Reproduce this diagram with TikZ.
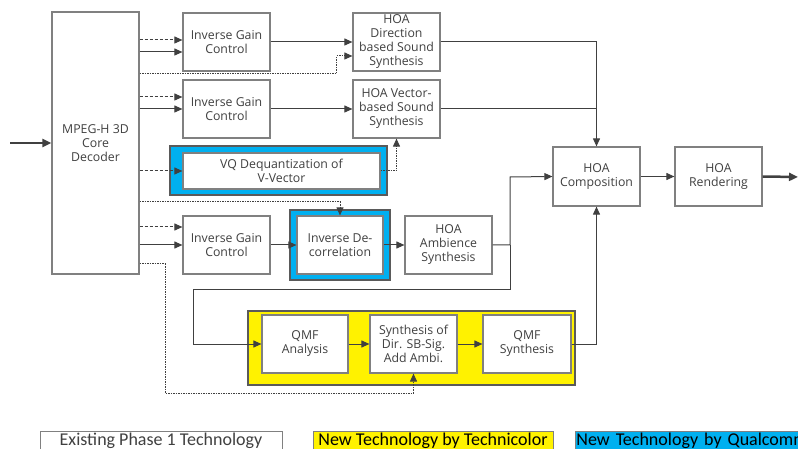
\documentclass[tikz,border=0pt]{standalone}
\usepackage{fontspec}
\setmainfont{Open Sans}
\newfontfamily\legendfont{Carlito}
\usetikzlibrary{arrows.meta}
\definecolor{qcblue}{RGB}{0,176,240}
\definecolor{lnk}{RGB}{64,64,64}
\definecolor{brd}{RGB}{128,128,128}
\tikzset{
  blk/.style={draw=brd, line width=1.2pt, fill=white, text=lnk, align=center,
    minimum width=87pt, minimum height=58pt, inner sep=1pt,
    font=\fontsize{12.3}{14}\selectfont},
  hilite/.style={draw=brd!70!black, line width=1.2pt},
  legend/.style={draw=brd, line width=0.8pt, minimum height=20pt, inner sep=1pt,
    font=\legendfont\fontsize{18}{20}\selectfont}
}
\begin{document}
\begin{tikzpicture}[x=1pt, y=-1pt, line width=1pt, color=lnk,
    >={Triangle[length=8pt,width=7pt]},
    dsh/.style={dash pattern=on 3pt off 2pt},
    dotln/.style={dash pattern=on 1.5pt off 1pt},
    thickarr/.style={line width=2.5pt, -{Triangle[length=9pt,width=8pt]}}]
    \useasboundingbox (0,0) rectangle (798,449);

    % Highlight frames (behind the blocks)
    \node[hilite, fill=qcblue, minimum width=217pt, minimum height=49pt] (vqbg) at (278.5,170.5) {};
    \node[hilite, fill=qcblue, minimum width=100pt, minimum height=70pt] (idbg) at (340,245) {};
    \node[hilite, fill=yellow, minimum width=327pt, minimum height=74pt] (tcbg) at (411.5,348) {};

    % Blocks
    \node[blk, minimum height=262pt] (core) at (95.5,143) {MPEG-H 3D\\Core\\Decoder};
    \node[blk] (igc1) at (226.5,42) {Inverse Gain\\Control};
    \node[blk] (hoadir) at (396.5,42) {HOA\\Direction\\based Sound\\Synthesis};
    \node[blk] (igc2) at (226.5,109) {Inverse Gain\\Control};
    \node[blk] (hoavec) at (396.5,109) {HOA Vector-\\based Sound\\Synthesis};
    \node[blk, minimum width=197pt, minimum height=36pt] (vq) at (281.5,171) {VQ Dequantization of\\V-Vector};
    \node[blk, minimum height=59pt] (hoacomp) at (596.5,176.5) {HOA\\Composition};
    \node[blk, minimum height=59pt] (hoarend) at (718.5,176.5) {HOA\\Rendering};
    \node[blk] (igc3) at (226.5,245) {Inverse Gain\\Control};
    \node[blk, minimum width=86pt] (invdec) at (340,245) {Inverse De-\\correlation};
    \node[blk] (hoaamb) at (448.5,245) {HOA\\Ambience\\Synthesis};
    \node[blk, minimum width=86pt] (qmfa) at (305,344) {QMF\\Analysis};
    \node[blk] (synth) at (413.5,344) {Synthesis of\\Dir. SB-Sig.\\Add Ambi.};
    \node[blk, minimum width=88pt] (qmfs) at (527,344) {QMF\\Synthesis};

    % Ports and bends
    \coordinate (in) at (10,143);
    \coordinate (out) at (798,177);
    \coordinate (p1) at ([yshift=2pt]igc1.west);
    \coordinate (q1) at ([yshift=-10pt]igc1.west);
    \coordinate (r1) at ([yshift=-14pt]hoadir.west);
    \coordinate (p2) at ([yshift=12pt]igc2.west);
    \coordinate (p3) at ([yshift=18pt]igc3.west);
    \coordinate (yd1) at (0,74);
    \coordinate (yd2) at (0,202);
    \coordinate (yd3) at (0,264);
    \coordinate (j) at (510,177);
    \coordinate (k) at (193,289);
    \coordinate (m) at (165,393);

    % Input and output
    \draw[thickarr] (in) -- (core.west |- in);
    \draw[thickarr] (hoarend.east) -- (out);

    % Direction based path
    \draw[dsh, ->] (core.east |- p1) -- (p1);
    \draw[->] (core.east |- q1) -- (q1);
    \draw[->] (igc1) -- (hoadir);
    \draw[dotln, ->] (core.east |- yd1) -| ([xshift=-16pt]r1) -- (r1);
    \draw[->] (hoadir.east) -| (hoacomp.north);

    % Vector based path
    \draw[dsh, ->] (core.east |- p2) -- (p2);
    \draw[->] (core.east |- igc2.west) -- (igc2.west);
    \draw[->] (igc2) -- (hoavec);
    \draw[dsh, ->] (core.east |- vq.west) -- (vq.west);
    \draw[dotln, ->] (vq.east) -| (hoavec.south);
    \draw (hoavec.east) -- (hoavec.east -| hoacomp.north);

    % Ambience path
    \draw[dotln, ->] (core.east |- yd2) -| (invdec.north);
    \draw[dsh, ->] (core.east |- p3) -- (p3);
    \draw[->] (core.east |- igc3.west) -- (igc3.west);
    \draw[->] (igc3) -- (invdec);
    \draw[->] (invdec) -- (hoaamb);
    \draw[->] (hoaamb.east) -| (j) -- (hoacomp.west);
    \draw[->] (hoaamb.east -| j) |- (k) |- (qmfa.west);

    % Subband path
    \draw[->] (qmfa) -- (synth);
    \draw[->] (synth) -- (qmfs);
    \draw[->] (qmfs.east) -| (hoacomp.south);
    \draw[dotln, ->] (core.east |- yd3) -| (m) -| (synth.south);
    \draw[->] (hoacomp) -- (hoarend);

    % Legend
    \node[legend, fill=white, minimum width=242pt] (leg1) at (161,441) {Existing Phase 1 Technology};
    \node[legend, fill=yellow, text=black, minimum width=240pt] (leg2) at (433,441) {New Technology by Technicolor};
    \node[legend, fill=qcblue, text=black, anchor=west, align=left, text width=250pt] (leg3) at (575,441) {New Technology by Qualcomm};
\end{tikzpicture}
\end{document}
